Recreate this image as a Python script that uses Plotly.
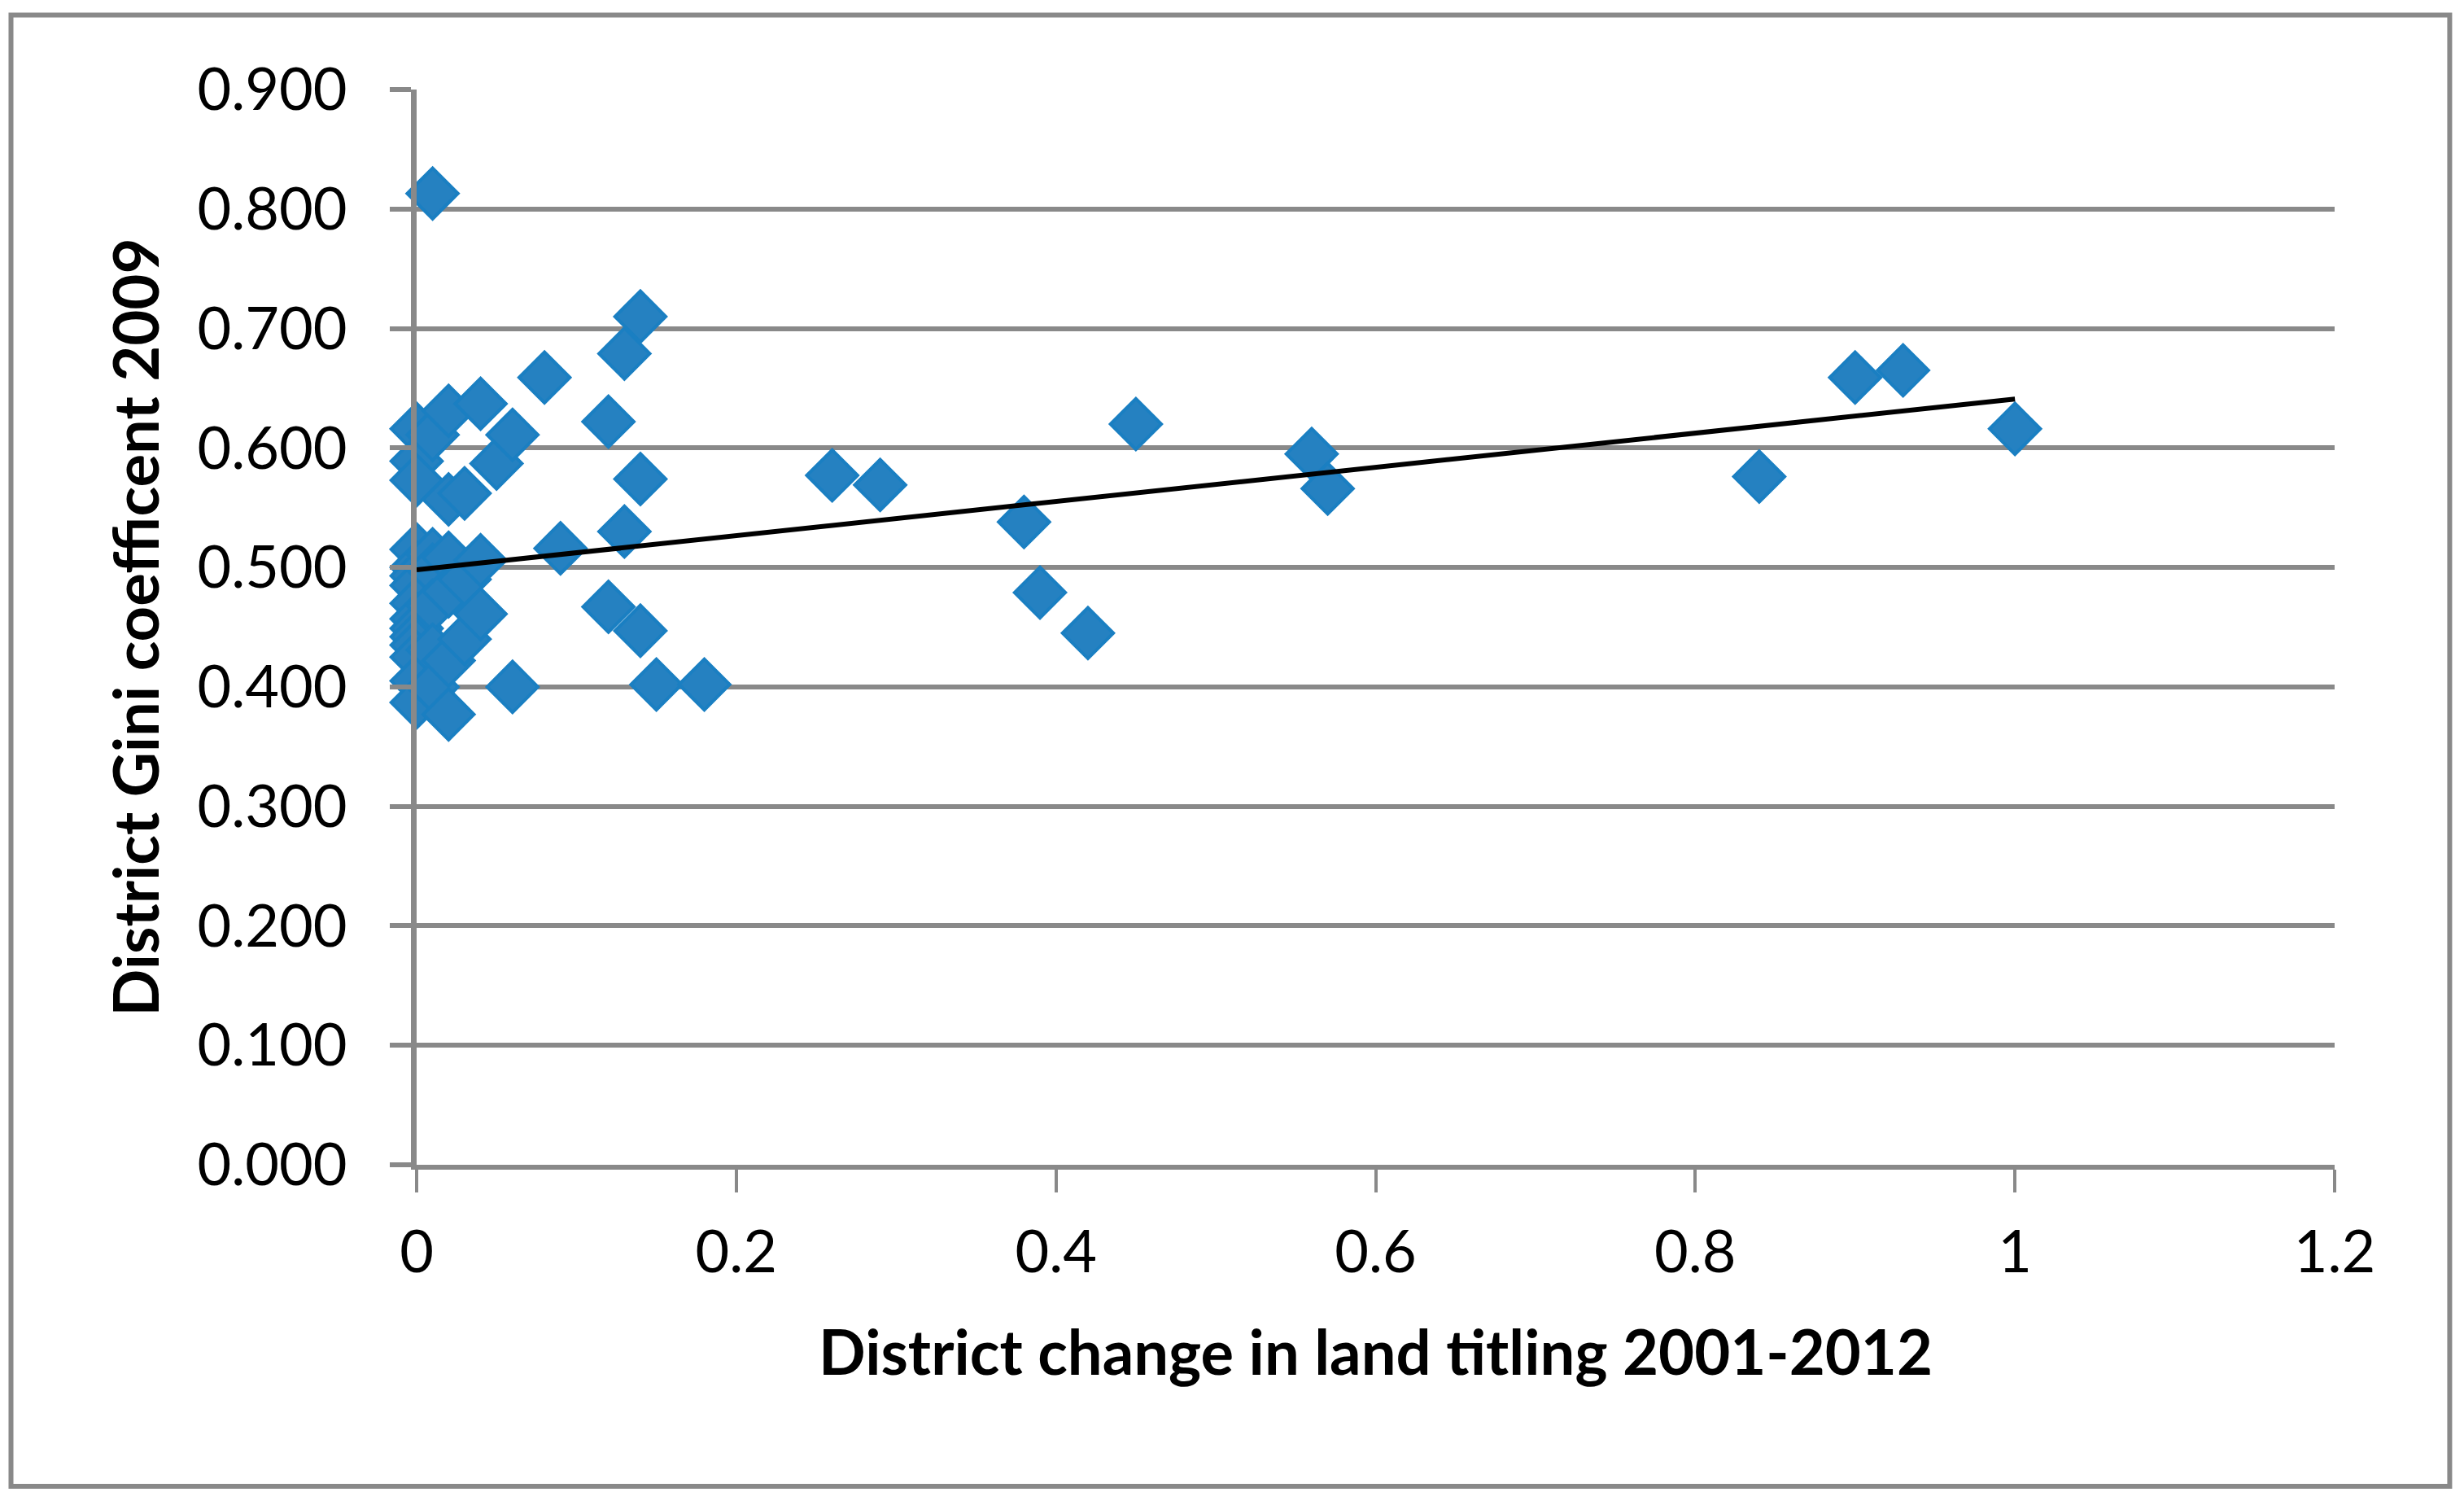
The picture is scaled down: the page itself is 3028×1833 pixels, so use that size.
import plotly.graph_objects as go

# ---- data ----
land_titling_change = [
    0, 0, 0, 0, 0, 0, 0, 0, 0, 0, 0, 0, 0, 0, 0,
    0.01, 0.01, 0.01, 0.01, 0.01, 0.01, 0.01,
    0.02, 0.02, 0.02, 0.02, 0.02, 0.02,
    0.03, 0.03, 0.03,
    0.04, 0.04, 0.04,
    0.05,
    0.06, 0.06,
    0.08,
    0.09,
    0.12, 0.12,
    0.13, 0.13,
    0.14, 0.14, 0.14,
    0.15,
    0.18,
    0.26, 0.29, 0.38, 0.39, 0.42, 0.45, 0.56, 0.57, 0.84, 0.90, 0.93, 1.00,
]
gini_2009 = [
    0.616, 0.589, 0.573, 0.515, 0.500, 0.493, 0.485, 0.470, 0.457, 0.449, 0.442, 0.435, 0.425, 0.405, 0.387,
    0.813, 0.611, 0.511, 0.498, 0.468, 0.431, 0.400,
    0.631, 0.557, 0.508, 0.480, 0.422, 0.377,
    0.562, 0.490, 0.440,
    0.637, 0.506, 0.461,
    0.587,
    0.611, 0.400,
    0.659,
    0.516,
    0.622, 0.467,
    0.679, 0.530,
    0.710, 0.574, 0.447,
    0.402,
    0.402,
    0.577, 0.569, 0.538, 0.479, 0.445, 0.620, 0.595, 0.566, 0.576, 0.659, 0.665, 0.616,
]
# linear trend line as drawn in the reference (start and end of the fitted line)
trend_x = [0.0, 1.0]
trend_y = [0.498, 0.641]

x_tick_vals = [0, 0.2, 0.4, 0.6, 0.8, 1.0, 1.2]
x_tick_text = ["0", "0.2", "0.4", "0.6", "0.8", "1", "1.2"]
y_tick_vals = [0.0, 0.1, 0.2, 0.3, 0.4, 0.5, 0.6, 0.7, 0.8, 0.9]

x_title = "District change in land titling 2001-2012"
y_title = "District Gini coefficent 2009"

GRAY = "#898989"
FONT = "Lato"

fig = go.Figure()
fig.add_trace(go.Scatter(
    x=land_titling_change, y=gini_2009, mode="markers",
    marker=dict(symbol="diamond", size=48, color="#2581C1",
                line=dict(color="#1A7FC2", width=4)),
    cliponaxis=False, showlegend=False, hoverinfo="x+y",
))
fig.add_trace(go.Scatter(
    x=trend_x, y=trend_y, mode="lines",
    line=dict(color="black", width=6),
    cliponaxis=False, showlegend=False, hoverinfo="skip",
))

fig.update_layout(
    width=3020, height=1825,
    margin=dict(l=504, r=159, t=102, b=402),
    paper_bgcolor="white", plot_bgcolor="white",
    font=dict(family=FONT, color="black"),
    xaxis=dict(
        range=[0, 1.2], tickvals=x_tick_vals, ticktext=x_tick_text,
        showgrid=False, zeroline=False,
        showline=True, linecolor=GRAY, linewidth=6,
        ticks="outside", ticklen=28, tickwidth=4, tickcolor=GRAY,
        tickfont=dict(family=FONT, size=72, color="black"),
        ticklabelstandoff=12,
        title=dict(text="<b>" + x_title + "</b>", standoff=60,
                   font=dict(family=FONT, size=76, color="black")),
    ),
    yaxis=dict(
        range=[0, 0.9], tickvals=y_tick_vals, tickformat=".3f",
        showgrid=True, gridcolor=GRAY, gridwidth=6, zeroline=False,
        showline=True, linecolor=GRAY, linewidth=7,
        ticks="outside", ticklen=26, tickwidth=6, tickcolor=GRAY,
        tickfont=dict(family=FONT, size=72, color="black"),
        ticklabelstandoff=38,
        title=dict(text="<b>" + y_title + "</b>", standoff=24,
                   font=dict(family=FONT, size=76, color="black")),
    ),
    shapes=[dict(
        type="rect", xref="paper", yref="paper",
        x0=-0.2115, x1=1.06, y0=-0.299, y1=1.0693,
        line=dict(color=GRAY, width=6), fillcolor="rgba(0,0,0,0)", layer="below",
    )],
)

fig.write_html("out.html")
